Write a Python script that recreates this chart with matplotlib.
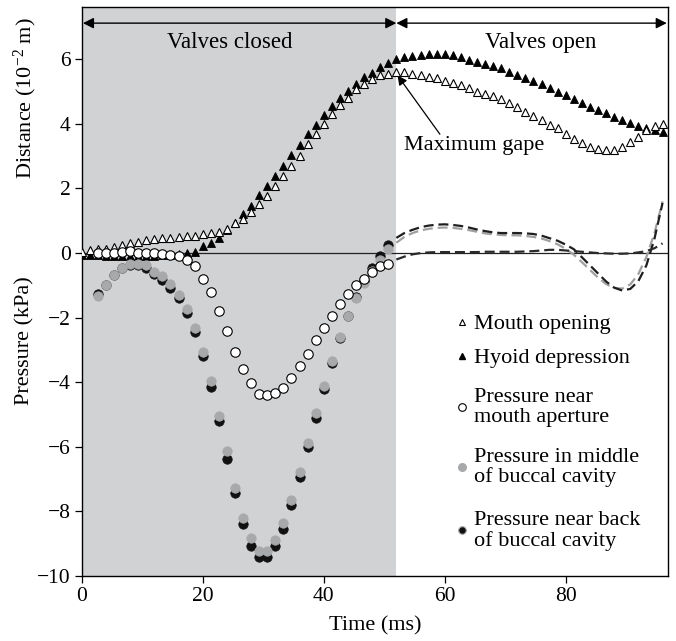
import matplotlib
matplotlib.use("Agg")
import matplotlib.pyplot as plt
from matplotlib.lines import Line2D
from matplotlib.legend import Legend

plt.rcParams['font.family'] = ['Liberation Serif', 'DejaVu Serif']
plt.rcParams['mathtext.fontset'] = 'custom'
plt.rcParams['mathtext.rm'] = 'Liberation Serif'
plt.rcParams['mathtext.it'] = 'Liberation Serif:italic'

# ---------------- data ----------------
time_ms = [0.0, 1.33, 2.67, 4.0, 5.33, 6.67, 8.0, 9.33, 10.67, 12.0, 13.33, 14.67,
           16.0, 17.33, 18.67, 20.0, 21.33, 22.67, 24.0, 25.33, 26.67, 28.0, 29.33,
           30.67, 32.0, 33.33, 34.67, 36.0, 37.33, 38.67, 40.0, 41.33, 42.67, 44.0,
           45.33, 46.67, 48.0, 49.33, 50.67, 52.0, 53.33, 54.67, 56.0, 57.33, 58.67,
           60.0, 61.33, 62.67, 64.0, 65.33, 66.67, 68.0, 69.33, 70.67, 72.0, 73.33,
           74.67, 76.0, 77.33, 78.67, 80.0, 81.33, 82.67, 84.0, 85.33, 86.67, 88.0,
           89.33, 90.67, 92.0, 93.33, 94.67, 96.0]

mouth_opening = [0.03, 0.08, 0.12, 0.13, 0.19, 0.25, 0.30, 0.35, 0.40, 0.45,
                 0.46, 0.46, 0.51, 0.52, 0.53, 0.58, 0.63, 0.66, 0.74, 0.92,
                 1.06, 1.27, 1.51, 1.78, 2.07, 2.38, 2.69, 3.00, 3.37, 3.68,
                 4.01, 4.32, 4.58, 4.79, 5.07, 5.22, 5.38, 5.51, 5.56, 5.60,
                 5.60, 5.56, 5.51, 5.46, 5.41, 5.33, 5.27, 5.20, 5.10, 5.00,
                 4.93, 4.86, 4.76, 4.65, 4.53, 4.38, 4.24, 4.11, 3.98, 3.86,
                 3.70, 3.53, 3.40, 3.29, 3.23, 3.18, 3.20, 3.28, 3.44, 3.60,
                 3.80, 3.93, 4.01]

hyoid_depression = [-0.05, -0.06, -0.07, -0.08, -0.08, -0.08, -0.09, -0.09, -0.08, -0.08,
                    -0.07, -0.06, -0.04, 0.00, 0.03, 0.21, 0.31, 0.48, 0.70, 0.92,
                    1.20, 1.47, 1.79, 2.08, 2.39, 2.69, 3.03, 3.34, 3.68, 3.96,
                    4.27, 4.55, 4.79, 5.02, 5.22, 5.44, 5.59, 5.77, 5.87, 6.00,
                    6.06, 6.10, 6.13, 6.15, 6.16, 6.16, 6.14, 6.08, 5.99, 5.92,
                    5.85, 5.80, 5.73, 5.62, 5.51, 5.41, 5.33, 5.23, 5.10, 4.98,
                    4.88, 4.76, 4.65, 4.53, 4.44, 4.34, 4.22, 4.13, 4.03, 3.95,
                    3.86, 3.80, 3.75]

# pressure samples while valves are closed (circles)
time_closed = time_ms[2:39]
p_mouth_aperture = [0.0, 0.0, 0.0, 0.03, 0.05, 0.01, 0.0, 0.0, -0.02, -0.05,
                    -0.09, -0.20, -0.41, -0.79, -1.20, -1.79, -2.42, -3.06, -3.59, -4.02,
                    -4.35, -4.40, -4.32, -4.17, -3.86, -3.50, -3.12, -2.69, -2.33, -1.96,
                    -1.58, -1.26, -1.00, -0.79, -0.59, -0.41, -0.33]
p_middle = [-1.34, -1.00, -0.69, -0.46, -0.33, -0.33, -0.38, -0.59, -0.72, -0.95,
            -1.31, -1.72, -2.31, -3.07, -3.95, -5.03, -6.14, -7.26, -8.20, -8.83,
            -9.22, -9.22, -8.89, -8.37, -7.64, -6.78, -5.87, -4.96, -4.12, -3.33,
            -2.60, -1.96, -1.38, -0.92, -0.55, -0.22, 0.12]
p_back = [-1.28, -0.98, -0.68, -0.47, -0.36, -0.36, -0.45, -0.64, -0.83, -1.07,
          -1.38, -1.86, -2.45, -3.20, -4.15, -5.21, -6.38, -7.43, -8.39, -9.06,
          -9.40, -9.40, -9.06, -8.55, -7.79, -6.92, -5.99, -5.10, -4.20, -3.41,
          -2.62, -1.96, -1.36, -0.85, -0.45, -0.08, 0.25]

# pressure traces while valves are open (dashed lines)
time_open = time_ms[39:]
d_back = [0.47, 0.62, 0.72, 0.80, 0.85, 0.88, 0.89, 0.87, 0.84, 0.79,
          0.73, 0.68, 0.64, 0.62, 0.62, 0.62, 0.61, 0.59, 0.54, 0.46,
          0.38, 0.26, 0.12, -0.13, -0.38, -0.63, -0.88, -1.07, -1.16, -1.11,
          -0.87, -0.38, 0.45, 1.55]
d_middle = [0.32, 0.50, 0.62, 0.70, 0.75, 0.78, 0.79, 0.78, 0.75, 0.71,
            0.66, 0.61, 0.58, 0.56, 0.55, 0.55, 0.53, 0.50, 0.45, 0.37,
            0.27, 0.13, -0.05, -0.28, -0.52, -0.76, -0.96, -1.08, -1.10, -0.97,
            -0.65, -0.12, 0.62, 1.60]
d_mouth = [-0.20, -0.11, -0.04, 0.00, 0.02, 0.03, 0.03, 0.03, 0.03, 0.03,
           0.03, 0.04, 0.04, 0.04, 0.04, 0.04, 0.05, 0.06, 0.08, 0.10,
           0.10, 0.08, 0.06, 0.04, 0.02, 0.00, -0.01, -0.02, -0.02, -0.01,
           0.02, 0.06, 0.15, 0.30]

valves_closed_end = 52.0
x_ticks = [0, 20, 40, 60, 80]
y_ticks = [-10, -8, -6, -4, -2, 0, 2, 4, 6]

legend_labels = ['Mouth opening', 'Hyoid depression', 'Pressure near\nmouth aperture',
                 'Pressure in middle\nof buccal cavity', 'Pressure near back\nof buccal cavity']

# ---------------- figure ----------------
FS = 16
fig = plt.figure(figsize=(6.76, 6.41), dpi=100)
ax = fig.add_axes([0.1209, 0.1014, 0.8669, 0.8872])
ax.set_xlim(0, 96.86)
ax.set_ylim(-10, 7.61)

ax.axvspan(0, valves_closed_end, color='#d1d2d4', lw=0, zorder=0)
ax.axhline(0, color='#222222', lw=0.9, zorder=1)

GRAY = '#a8a9ab'
ax.plot(time_open, d_middle, color='#a0a0a0', lw=1.6, dashes=(4.5, 2.2), zorder=2)
ax.plot(time_open, d_back, color='#1e1e1e', lw=1.6, dashes=(4.5, 2.2), zorder=2.1)
ax.plot(time_open, d_mouth, color='#2a2a2a', lw=1.6, dashes=(4.5, 2.2), zorder=2.2)

ax.plot(time_ms, hyoid_depression, ls='none', marker='^', ms=5.6,
        mfc='black', mec='black', mew=0.6, zorder=3)
ax.plot(time_ms, mouth_opening, ls='none', marker='^', ms=5.6,
        mfc='white', mec='black', mew=0.8, zorder=3.5)

ax.plot(time_closed, p_back, ls='none', marker='o', ms=6.8,
        mfc='#111111', mec='#111111', mew=0.5, zorder=4)
ax.plot(time_closed, p_middle, ls='none', marker='o', ms=6.8,
        mfc=GRAY, mec=GRAY, mew=0.5, zorder=4.5)
ax.plot(time_closed, p_mouth_aperture, ls='none', marker='o', ms=6.8,
        mfc='white', mec='black', mew=0.8, zorder=5)

# top arrows
arr = dict(arrowstyle='<|-|>', color='black', lw=1.0, mutation_scale=16,
           shrinkA=0, shrinkB=0)
ax.annotate('', xy=(0.2, 7.12), xytext=(valves_closed_end, 7.12), arrowprops=arr, zorder=6)
ax.annotate('', xy=(valves_closed_end, 7.12), xytext=(96.7, 7.12), arrowprops=arr, zorder=6)
ax.text(24.5, 6.52, 'Valves closed', ha='center', va='center', fontsize=16.5)
ax.text(75.8, 6.52, 'Valves open', ha='center', va='center', fontsize=16.5)

# maximum gape
ax.annotate('', xy=(52.2, 5.5), xytext=(59.2, 3.68),
            arrowprops=dict(arrowstyle='-|>', color='black', lw=0.9,
                            mutation_scale=14, shrinkA=0, shrinkB=0), zorder=6)
ax.text(53.3, 3.32, 'Maximum gape', ha='left', va='center', fontsize=FS)

# ticks
ax.set_xticks(x_ticks)
ax.set_yticks(y_ticks)
ax.tick_params(direction='out', length=5, width=0.9, labelsize=15.5, pad=3)
for s in ax.spines.values():
    s.set_linewidth(1.0)

# axis labels
fig.text(25 / 676, 1 - 98 / 641, 'Distance (10$^{-2}$ m)', rotation=90,
         ha='center', va='center', fontsize=FS)
fig.text(25 / 676, 1 - 341 / 641, 'Pressure (kPa)', rotation=90,
         ha='center', va='center', fontsize=FS)
fig.text(375 / 676, 1 - 626 / 641, 'Time (ms)', ha='center', va='center', fontsize=FS)

# legend: one entry per legend so that vertical spacing matches the original
handles = [
    Line2D([], [], ls='none', marker='^', ms=4.5, mfc='white', mec='black', mew=0.8),
    Line2D([], [], ls='none', marker='^', ms=4.5, mfc='black', mec='black'),
    Line2D([], [], ls='none', marker='o', ms=5.5, mfc='white', mec='black', mew=0.8),
    Line2D([], [], ls='none', marker='o', ms=5.5, mfc=GRAY, mec=GRAY),
    Line2D([], [], ls='none', marker='o', ms=5.5, mfc='#111111', mec=GRAY, mew=0.8),
]
entry_y = [0.4431, 0.3833, 0.2963, 0.1908, 0.0791]
for h, lab, yy in zip(handles, legend_labels, entry_y):
    lg = Legend(ax, [h], [lab], loc='center left', bbox_to_anchor=(0.637, yy),
                frameon=False, fontsize=FS, handlelength=0.6, handletextpad=0.27,
                borderpad=0, borderaxespad=0)
    for t in lg.get_texts():
        t.set_linespacing(1.05)
    ax.add_artist(lg)

fig.savefig('out.png', dpi=100)
